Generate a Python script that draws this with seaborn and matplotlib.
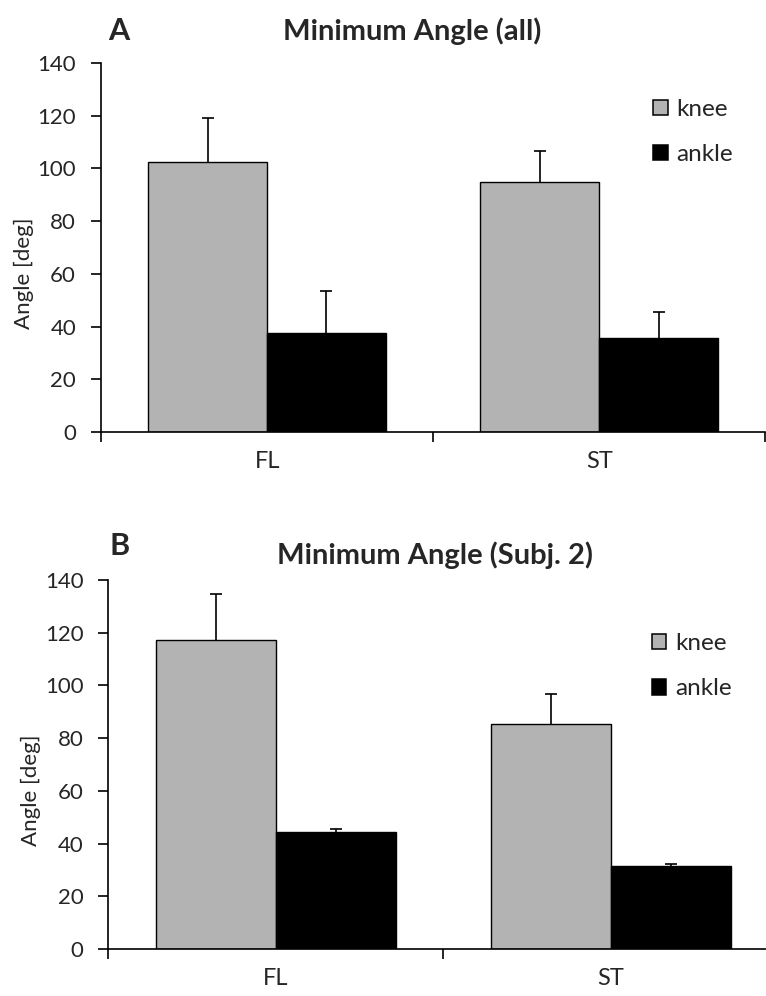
import matplotlib
matplotlib.use("Agg")
import matplotlib.pyplot as plt
import numpy as np
import pandas as pd
import seaborn as sns

# ── data ─────────────────────────────────────
conditions = ["FL", "ST"]
joints = ["knee", "ankle"]

all_knee = [102.5, 94.8]
all_ankle = [37.4, 35.5]
all_knee_err = [16.6, 11.9]
all_ankle_err = [16.1, 10.1]

subj2_knee = [117.2, 85.4]
subj2_ankle = [44.3, 31.6]
subj2_knee_err = [17.3, 11.3]
subj2_ankle_err = [1.4, 0.5]

yticks = [0, 20, 40, 60, 80, 100, 120, 140]

sns.set_theme(style="white")
plt.rcParams["font.family"] = ["Lato", "DejaVu Sans"]

palette = {"knee": "#b3b3b3", "ankle": "#000000"}


def draw_panel(ax, knee, ankle, knee_err, ankle_err, title, letter,
               title_x, title_y, letter_x, letter_y, legend_xy):
    df = pd.DataFrame({
        "condition": conditions * 2,
        "joint": ["knee"] * 2 + ["ankle"] * 2,
        "angle": list(knee) + list(ankle),
    })
    sns.barplot(data=df, x="condition", y="angle", hue="joint",
                hue_order=joints, palette=palette, width=0.715,
                errorbar=None, edgecolor="black", linewidth=1.0, ax=ax)

    # upper-only error bars, as in the original spreadsheet chart
    for cont, errs in zip(ax.containers, [knee_err, ankle_err]):
        xs = [b.get_x() + b.get_width() / 2 for b in cont]
        ys = [b.get_height() for b in cont]
        eb = ax.errorbar(xs, ys, yerr=[np.zeros(len(errs)), errs], fmt="none",
                         ecolor="black", elinewidth=1.2, capsize=4.3,
                         capthick=1.2, zorder=3)
        eb[1][0].set_visible(False)  # no cap at the bar top

    ax.set_ylim(0, 140)
    ax.set_xlim(-0.5, 1.5)
    ax.set_yticks(yticks)
    ax.set_xticks([-0.5, 0.5, 1.5])
    ax.set_xticklabels([])
    ax.set_xticks([0, 1], minor=True)
    ax.set_xticklabels(conditions, minor=True)
    ax.tick_params(axis="x", which="major", direction="out", length=7,
                   width=1.2, color="black", bottom=True)
    ax.tick_params(axis="x", which="minor", length=0, pad=14, labelsize=17)
    ax.tick_params(axis="y", direction="out", length=7, width=1.2,
                   color="black", left=True, labelsize=16, pad=11)
    for side in ["top", "right"]:
        ax.spines[side].set_visible(False)
    for side in ["left", "bottom"]:
        ax.spines[side].set_color("black")
        ax.spines[side].set_linewidth(1.2)
    ax.set_xlabel("")
    ax.set_ylabel("Angle [deg]", fontsize=16)
    ax.yaxis.set_label_coords(-0.101, 0.43)

    ax.text(title_x, title_y, title, transform=ax.transAxes, fontsize=21,
            fontweight="bold", ha="center", va="center")
    ax.text(letter_x, letter_y, letter, transform=ax.transAxes, fontsize=22,
            fontweight="bold", ha="center", va="center")

    sns.move_legend(ax, "center left", bbox_to_anchor=legend_xy,
                    frameon=False, title=None, fontsize=17.5,
                    handlelength=0.6, handleheight=0.6, handletextpad=0.35,
                    labelspacing=1.0, borderpad=0, borderaxespad=0)
    for h in ax.get_legend().get_patches():
        h.set_edgecolor("black")
        h.set_linewidth(1.1)


fig = plt.figure(figsize=(7.66, 9.96), dpi=100)
ax_a = fig.add_axes([0.132, 0.5663, 0.867, 0.3705])
ax_b = fig.add_axes([0.1416, 0.0472, 0.8747, 0.3705])

draw_panel(ax_a, all_knee, all_ankle, all_knee_err, all_ankle_err,
           "Minimum Angle (all)", "A", 0.468, 1.087, 0.027, 1.087,
           (0.831, 0.813))
draw_panel(ax_b, subj2_knee, subj2_ankle, subj2_knee_err, subj2_ankle_err,
           "Minimum Angle (Subj. 2)", "B", 0.488, 1.068, 0.017, 1.092,
           (0.811, 0.766))

fig.savefig("out.png", dpi=100)
